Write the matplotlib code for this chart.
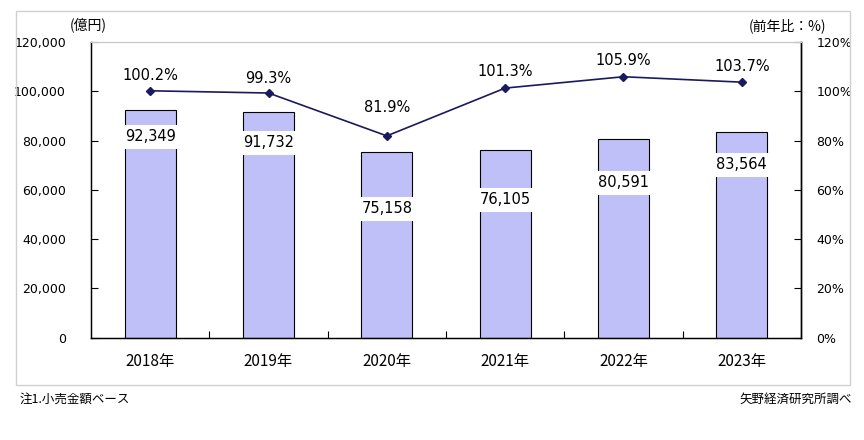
import matplotlib.pyplot as plt
import numpy as np
from matplotlib.patches import Rectangle

plt.rcParams['font.family'] = ['DejaVu Sans', 'Noto Sans CJK JP']

years = ["2018年", "2019年", "2020年", "2021年", "2022年", "2023年"]
sales = [92349, 91732, 75158, 76105, 80591, 83564]       # 億円
yoy = [100.2, 99.3, 81.9, 101.3, 105.9, 103.7]            # 前年比 %
sales_label_y = [81450, 79020, 52230, 55890, 62780, 70090]
yoy_label_off = [15, 15, 28, 17, 16, 16]

W, H = 864, 440
fig = plt.figure(figsize=(W / 100, H / 100), dpi=100)

# outer frame
fig.patches.append(Rectangle((16 / W, 1 - 385 / H), (850 - 16) / W, (385 - 11) / H,
                             transform=fig.transFigure, fill=False,
                             edgecolor="#D0D0D0", linewidth=1.0))

ax = fig.add_axes([91 / W, 1 - 337.7 / H, (801 - 91) / W, (337.7 - 42) / H])
x = np.arange(len(years))

ax.bar(x, sales, width=0.43, color="#C0C0F8", edgecolor="black", linewidth=0.8, zorder=2)
for xi, v, ly in zip(x, sales, sales_label_y):
    ax.text(xi, ly, f"{v:,}", ha="center", va="center", fontsize=10.5, zorder=5,
            bbox=dict(boxstyle="square,pad=0.3", facecolor="white", edgecolor="none"))

ax.set_xlim(-0.5, len(years) - 0.5)
ax.set_ylim(0, 120000)
ax.set_yticks(np.arange(0, 120001, 20000))
ax.set_yticklabels([f"{t:,}" for t in range(0, 120001, 20000)], fontsize=9)
ax.set_xticks(x)
ax.set_xticklabels(years, fontsize=11, family=['Noto Sans CJK JP'])
ax.set_xticks(np.arange(0.5, len(years) - 1, 1), minor=True)
ax.tick_params(axis="x", which="major", length=0, pad=11)
ax.tick_params(axis="x", which="minor", direction="in", length=5, width=0.8)
ax.tick_params(axis="y", direction="in", length=5, width=0.8, pad=18)

ax.spines["top"].set_color("#C8C8C8")
for s in ["left", "bottom", "right"]:
    ax.spines[s].set_linewidth(1.0)

ax2 = ax.twinx()
ax2.plot(x, yoy, color="#1A1A5E", linewidth=1.2, marker="D", markersize=4.5, zorder=4)
for xi, v, off in zip(x, yoy, yoy_label_off):
    ax2.annotate(f"{v}%", (xi, v), xytext=(0, off), textcoords="offset pixels",
                 ha="center", va="center", fontsize=10.5)
ax2.set_ylim(0, 120)
ax2.set_yticks(np.arange(0, 121, 20))
ax2.set_yticklabels([f"{t}%" for t in range(0, 121, 20)], fontsize=9)
ax2.tick_params(axis="y", direction="in", length=5, width=0.8, pad=11)
ax2.spines["top"].set_color("#C8C8C8")
ax2.spines["right"].set_linewidth(1.0)

fig.text(88 / W, 1 - 25 / H, "(億円)", ha="center", va="center", fontsize=10,
         family=['Noto Sans CJK JP'])
fig.text(787 / W, 1 - 26 / H, "(前年比：%)", ha="center", va="center", fontsize=10,
         family=['Noto Sans CJK JP'])
fig.text(20 / W, 1 - 399 / H, "注1.小売金額ベース", ha="left", va="center", fontsize=9,
         family=['Noto Sans CJK JP'])
fig.text(852 / W, 1 - 399 / H, "矢野経済研究所調べ", ha="right", va="center", fontsize=9,
         family=['Noto Sans CJK JP'])

fig.savefig("out.png", dpi=100)
